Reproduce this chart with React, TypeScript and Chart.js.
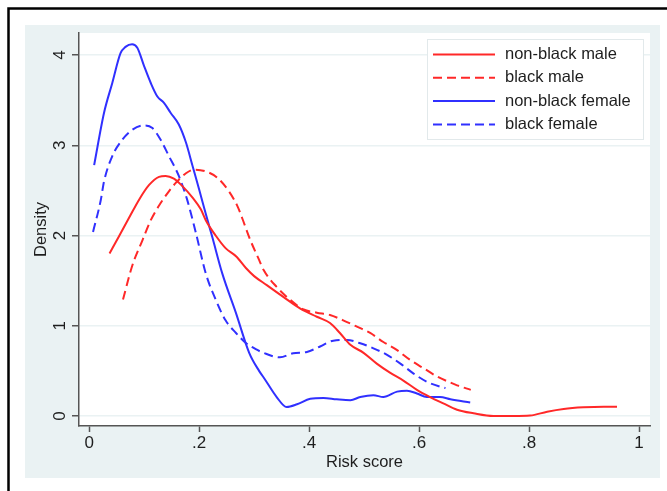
import React, { useEffect, useRef } from 'react';
import { Chart, registerables } from 'chart.js';

Chart.register(...registerables);

// ---- data ----
const seriesLabels = ['non-black male', 'black male', 'non-black female', 'black female'];

const nonBlackMale: [number, number][] = [
  [0.037, 1.8], [0.054, 1.99], [0.072, 2.19], [0.091, 2.4], [0.109, 2.56], [0.127, 2.65],
  [0.139, 2.66], [0.154, 2.63], [0.169, 2.55], [0.188, 2.42], [0.203, 2.29], [0.212, 2.17],
  [0.23, 2.0], [0.248, 1.86], [0.267, 1.77], [0.285, 1.64], [0.3, 1.55], [0.323, 1.45],
  [0.353, 1.32], [0.384, 1.19], [0.414, 1.1], [0.438, 1.03], [0.456, 0.92], [0.475, 0.79],
  [0.499, 0.7], [0.523, 0.58], [0.547, 0.48], [0.572, 0.39], [0.596, 0.29], [0.62, 0.21],
  [0.644, 0.14], [0.669, 0.07], [0.699, 0.03], [0.735, 0.0], [0.772, 0.0], [0.802, 0.005],
  [0.833, 0.048], [0.863, 0.078], [0.899, 0.096], [0.936, 0.103], [0.96, 0.103],
];

const blackMale: [number, number][] = [
  [0.0615, 1.29], [0.078, 1.66], [0.097, 1.95], [0.112, 2.17], [0.13, 2.36], [0.145, 2.49],
  [0.157, 2.58], [0.176, 2.69], [0.191, 2.73], [0.212, 2.71], [0.233, 2.64], [0.254, 2.49],
  [0.27, 2.32], [0.279, 2.18], [0.293, 1.95], [0.309, 1.73], [0.317, 1.62], [0.341, 1.43],
  [0.365, 1.29], [0.39, 1.18], [0.414, 1.145], [0.438, 1.12], [0.462, 1.06], [0.487, 0.99],
  [0.511, 0.92], [0.535, 0.82], [0.56, 0.73], [0.584, 0.62], [0.608, 0.53], [0.632, 0.44],
  [0.657, 0.37], [0.669, 0.34], [0.694, 0.29],
];

const nonBlackFemale: [number, number][] = [
  [0.009, 2.78], [0.027, 3.36], [0.042, 3.69], [0.057, 4.02], [0.066, 4.09], [0.078, 4.12],
  [0.0875, 4.08], [0.0997, 3.88], [0.112, 3.69], [0.124, 3.54], [0.136, 3.47], [0.148, 3.36],
  [0.163, 3.23], [0.176, 3.03], [0.188, 2.77], [0.2, 2.51], [0.212, 2.24], [0.224, 1.98],
  [0.242, 1.58], [0.267, 1.14], [0.291, 0.7], [0.309, 0.5], [0.317, 0.43], [0.341, 0.21],
  [0.359, 0.1], [0.378, 0.13], [0.402, 0.19], [0.426, 0.2], [0.45, 0.185], [0.475, 0.175],
  [0.493, 0.21], [0.517, 0.23], [0.535, 0.21], [0.56, 0.27], [0.578, 0.28], [0.596, 0.25],
  [0.614, 0.21], [0.638, 0.21], [0.657, 0.185], [0.693, 0.15],
];

const blackFemale: [number, number][] = [
  [0.007, 2.04], [0.021, 2.39], [0.027, 2.6], [0.042, 2.88], [0.06, 3.06], [0.078, 3.17],
  [0.0997, 3.22], [0.115, 3.19], [0.13, 3.06], [0.145, 2.88], [0.163, 2.66], [0.178, 2.4],
  [0.194, 2.03], [0.212, 1.58], [0.23, 1.29], [0.248, 1.06], [0.267, 0.92], [0.285, 0.81],
  [0.303, 0.74], [0.317, 0.7], [0.347, 0.65], [0.371, 0.695], [0.396, 0.71], [0.42, 0.77],
  [0.444, 0.835], [0.469, 0.843], [0.493, 0.806], [0.517, 0.75], [0.541, 0.68], [0.566, 0.58],
  [0.59, 0.47], [0.614, 0.38], [0.638, 0.325], [0.648, 0.31],
];

const xTickValues = [0, 0.2, 0.4, 0.6, 0.8, 1];
const xTickLabels = ['0', '.2', '.4', '.6', '.8', '1'];
const yTickValues = [0, 1, 2, 3, 4];
const yTickLabels = ['0', '1', '2', '3', '4'];

const xTitle = 'Risk score';
const yTitle = 'Density';

// ---- styling ----
const W = 667;
const H = 491;
const FONT = '"Liberation Sans", Arial, Helvetica, sans-serif';
const TEXT = '#1e1e1e';
const AXIS = '#555555';
const GRID = '#eaf2f3';
const RED = 'rgb(255,40,40)';
const BLUE = 'rgb(48,48,255)';
const DASH = [9, 5];

const toPts = (arr: [number, number][]) => arr.map(([x, y]) => ({ x, y }));

const backgroundPlugin = {
  id: 'stataBackground',
  beforeDraw(chart: any) {
    const { ctx, chartArea } = chart;
    ctx.save();
    ctx.fillStyle = '#ffffff';
    ctx.fillRect(0, 0, W, H);
    ctx.fillStyle = '#eaf2f3';
    ctx.fillRect(25, 25, 635, 453);
    ctx.fillStyle = '#ffffff';
    ctx.fillRect(chartArea.left, chartArea.top, chartArea.right - chartArea.left, chartArea.bottom - chartArea.top);
    ctx.strokeStyle = '#000000';
    ctx.lineWidth = 2.5;
    ctx.beginPath();
    ctx.moveTo(8.5, H + 5);
    ctx.lineTo(8.5, 8.5);
    ctx.lineTo(W + 5, 8.5);
    ctx.stroke();
    ctx.restore();
  },
};

const legendPlugin = {
  id: 'stataLegend',
  afterDraw(chart: any) {
    const { ctx } = chart;
    const bx = 427, by = 39, bw = 216, bh = 100;
    ctx.save();
    ctx.fillStyle = '#ffffff';
    ctx.fillRect(bx, by, bw, bh);
    ctx.strokeStyle = '#e2e9eb';
    ctx.lineWidth = 1;
    ctx.strokeRect(bx + 0.5, by + 0.5, bw, bh);
    chart.data.datasets.forEach((ds: any, i: number) => {
      const y = 54.5 + i * 23.3;
      ctx.strokeStyle = ds.borderColor;
      ctx.lineWidth = ds.borderWidth;
      ctx.setLineDash(ds.borderDash || []);
      ctx.beginPath();
      ctx.moveTo(433, y);
      ctx.lineTo(495, y);
      ctx.stroke();
      ctx.setLineDash([]);
      ctx.fillStyle = TEXT;
      ctx.font = `16.5px ${FONT}`;
      ctx.textAlign = 'left';
      ctx.textBaseline = 'middle';
      ctx.fillText(ds.label, 505, y);
    });
    ctx.restore();
  },
};

export default function App() {
  const ref = useRef<HTMLCanvasElement | null>(null);

  useEffect(() => {
    if (!ref.current) return;
    const series = [nonBlackMale, blackMale, nonBlackFemale, blackFemale];
    const colors = [RED, RED, BLUE, BLUE];
    const dashed = [false, true, false, true];
    const chart = new Chart(ref.current, {
      type: 'line',
      data: {
        datasets: series.map((s, i) => ({
          label: seriesLabels[i],
          data: toPts(s),
          borderColor: colors[i],
          backgroundColor: colors[i],
          borderWidth: 2,
          borderDash: dashed[i] ? DASH : [],
          pointRadius: 0,
          pointHoverRadius: 0,
          fill: false,
          cubicInterpolationMode: 'monotone' as const,
        })),
      },
      options: {
        animation: false,
        responsive: false,
        maintainAspectRatio: false,
        events: [],
        layout: { padding: { left: 0, top: 33, right: 17, bottom: 0 } },
        plugins: {
          legend: { display: false },
          tooltip: { enabled: false },
        },
        scales: {
          x: {
            type: 'linear',
            min: -0.01855,
            max: 1.02,
            afterBuildTicks: (s: any) => {
              s.ticks = xTickValues.map((v) => ({ value: v }));
            },
            afterFit: (s: any) => {
              s.height = 65;
            },
            ticks: {
              autoSkip: false,
              maxRotation: 0,
              padding: 1,
              color: TEXT,
              font: { family: FONT, size: 17 },
              callback: (_v: any, i: number) => xTickLabels[i],
            },
            grid: { drawOnChartArea: false, drawTicks: true, tickLength: 6, tickColor: AXIS, tickWidth: 1.5 },
            border: { color: AXIS, width: 1.5 },
            title: {
              display: true,
              text: xTitle,
              color: TEXT,
              font: { family: FONT, size: 16.5 },
              padding: { top: 0, bottom: 19 },
            },
          },
          y: {
            type: 'linear',
            min: -0.1108,
            max: 4.2438,
            afterBuildTicks: (s: any) => {
              s.ticks = yTickValues.map((v) => ({ value: v }));
            },
            afterFit: (s: any) => {
              s.width = 79;
            },
            ticks: {
              minRotation: 90,
              maxRotation: 90,
              crossAlign: 'center',
              padding: 7,
              color: TEXT,
              font: { family: FONT, size: 17 },
              callback: (_v: any, i: number) => yTickLabels[i],
            },
            grid: { color: GRID, lineWidth: 1.5, drawTicks: true, tickLength: 7, tickColor: AXIS, tickWidth: 1.5 },
            border: { color: AXIS, width: 1.5 },
            title: {
              display: true,
              text: yTitle,
              color: TEXT,
              font: { family: FONT, size: 16.5 },
              padding: { top: 32, bottom: 0 },
            },
          },
        },
      },
      plugins: [backgroundPlugin, legendPlugin],
    } as any);
    return () => chart.destroy();
  }, []);

  return (
    <div style={{ position: 'fixed', left: 0, top: 0, width: W, height: H }}>
      <canvas ref={ref} width={W} height={H} style={{ display: 'block', width: W, height: H }} />
    </div>
  );
}
